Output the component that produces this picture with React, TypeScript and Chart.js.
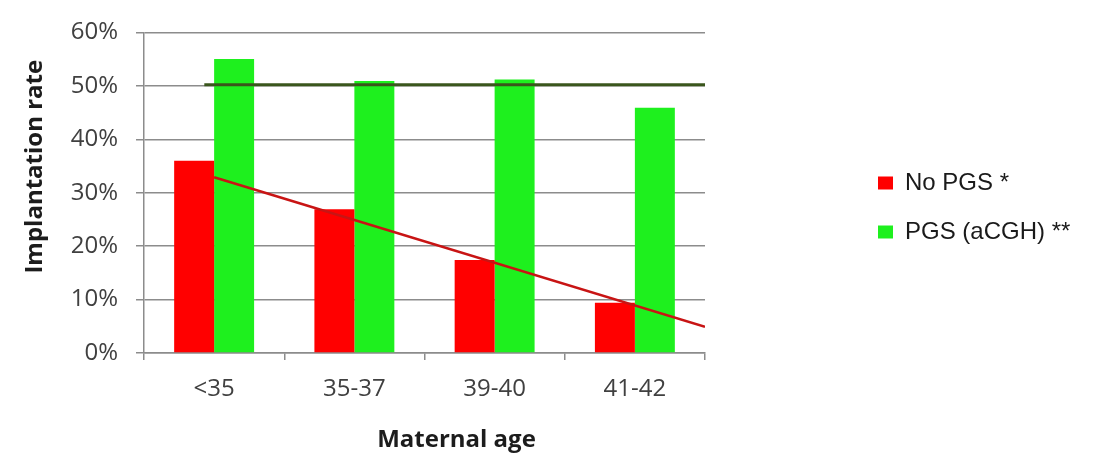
import React, { useEffect, useRef } from "react";
import { Chart, registerables } from "chart.js";

Chart.register(...registerables);

// Implantation rate (%) by maternal age group
const ageGroups = ["<35", "35-37", "39-40", "41-42"];
const noPgsRates = [36.0, 26.9, 17.4, 9.4];
const pgsRates = [55.0, 50.9, 51.2, 45.9];
const yTickValues = [0, 10, 20, 30, 40, 50, 60];

// Linear trend across the No PGS groups (x in category-index units)
const trendX = [0, 3.5];
const trendY = [32.9, 4.9];

// Flat PGS level line (x in category-index units)
const levelX = [-0.07, 3.5];
const levelY = [50.2, 50.2];

const seriesNames = ["No PGS *", "PGS (aCGH) **"];
const xTitle = "Maternal age";
const yTitle = "Implantation rate";

const GRID = "#8c8c8c";
const TICK_FONT = { family: '"Open Sans", sans-serif', size: 24 };

// Trend and level lines, mapped through the chart's own x / y scales
const overlayLines = {
  id: "overlayLines",
  afterDatasetsDraw(chart: any) {
    const { ctx, chartArea } = chart;
    const xs = chart.scales.x;
    const ys = chart.scales.y;
    const stroke = (px: number[], py: number[], color: string, width: number) => {
      ctx.beginPath();
      px.forEach((v, i) => {
        const X = xs.getPixelForValue(v);
        const Y = ys.getPixelForValue(py[i]);
        if (i === 0) ctx.moveTo(X, Y);
        else ctx.lineTo(X, Y);
      });
      ctx.strokeStyle = color;
      ctx.lineWidth = width;
      ctx.lineCap = "butt";
      ctx.stroke();
    };
    ctx.save();
    ctx.beginPath();
    ctx.rect(chartArea.left, chartArea.top - 5, chartArea.width, chartArea.height + 5);
    ctx.clip();
    stroke(levelX, levelY, "#3a561c", 3);
    stroke(trendX, trendY, "#c81414", 2.5);
    ctx.restore();
  },
};

// Axis titles drawn with a small offset from the plot centre
const axisTitles = {
  id: "axisTitles",
  afterDraw(chart: any) {
    const { ctx, chartArea } = chart;
    ctx.save();
    ctx.fillStyle = "#1c1c1c";
    ctx.font = 'bold 24px "Open Sans", sans-serif';
    ctx.textAlign = "center";
    ctx.textBaseline = "alphabetic";
    ctx.fillText(xTitle, (chartArea.left + chartArea.right) / 2 + 32, 447);
    ctx.translate(42, (chartArea.top + chartArea.bottom) / 2 - 26);
    ctx.rotate(-Math.PI / 2);
    ctx.fillText(yTitle, 0, 0);
    ctx.restore();
  },
};

// Moves the legend into the free space right of the plot
const legendPlacement = {
  id: "legendPlacement",
  afterLayout(chart: any) {
    const lg = chart.legend;
    if (!lg) return;
    const pad = lg.options.labels.padding;
    const colH = lg.columnSizes && lg.columnSizes[0] ? lg.columnSizes[0].height : 0;
    const firstItemTop = 171;
    const extra = 40;
    lg.left = 853;
    lg.right = chart.width;
    lg.width = lg.right - lg.left;
    lg.top = firstItemTop - pad - extra;
    lg.bottom = lg.top + pad + colH + 2 * extra;
    lg.height = lg.bottom - lg.top;
  },
};

export default function App() {
  const ref = useRef<HTMLCanvasElement>(null);

  useEffect(() => {
    const chart = new Chart(ref.current as HTMLCanvasElement, {
      type: "bar",
      data: {
        labels: ageGroups,
        datasets: [
          {
            label: seriesNames[0],
            data: noPgsRates,
            backgroundColor: "#ff0000",
            borderWidth: 0,
          },
          {
            label: seriesNames[1],
            data: pgsRates,
            backgroundColor: "#1ef01e",
            borderWidth: 0,
          },
        ],
      },
      options: {
        animation: false,
        responsive: false,
        layout: { padding: { left: 0, top: 20, right: 394, bottom: 0 } },
        datasets: {
          bar: { categoryPercentage: 0.57, barPercentage: 1.0 },
        },
        scales: {
          x: {
            type: "category",
            offset: true,
            grid: {
              offset: true,
              drawOnChartArea: false,
              drawTicks: true,
              tickLength: 7,
              color: GRID,
              lineWidth: 1.5,
            },
            border: { display: true, color: GRID, width: 1.5 },
            ticks: { font: TICK_FONT, color: "#404040", padding: 15 },
            afterFit(scale: any) {
              scale.height = 100;
            },
          },
          y: {
            type: "linear",
            min: 0,
            max: 60,
            afterBuildTicks(scale: any) {
              scale.ticks = yTickValues.map((v) => ({ value: v }));
            },
            grid: {
              color: GRID,
              lineWidth: 1.5,
              drawTicks: true,
              tickLength: 8,
            },
            border: { display: true, color: GRID, width: 1.5 },
            ticks: {
              font: TICK_FONT,
              color: "#404040",
              padding: 18,
              callback: (v: any) => `${v}%`,
            },
            afterFit(scale: any) {
              scale.width = 144;
            },
          },
        },
        plugins: {
          legend: {
            display: true,
            position: "chartArea",
            labels: {
              font: { family: '"Liberation Sans", Arial, sans-serif', size: 24 },
              color: "#1a1a1a",
              boxWidth: 15,
              boxHeight: 13,
              padding: 25,
            },
          },
          tooltip: { enabled: false },
        },
      } as any,
      plugins: [overlayLines, axisTitles, legendPlacement],
    });
    return () => chart.destroy();
  }, []);

  return (
    <div
      style={{
        position: "absolute",
        left: 0,
        top: 0,
        width: 1099,
        height: 453,
        background: "#ffffff",
      }}
    >
      <canvas ref={ref} width={1099} height={453} style={{ display: "block" }} />
    </div>
  );
}
